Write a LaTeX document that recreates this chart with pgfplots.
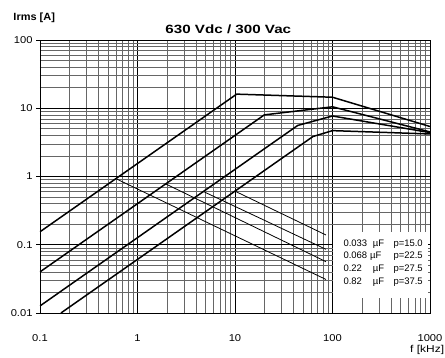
\documentclass[border=0pt]{standalone}
\usepackage{fontspec}
\setmainfont{Liberation Sans}
\usepackage{graphicx}
\usepackage{pgfplots}
\pgfplotsset{compat=1.18}
\newcommand{\sx}[1]{\scalebox{1.12}[1]{#1}}
\begin{document}
\begin{tikzpicture}
\path[use as bounding box] (-40bp,-45bp) rectangle (405bp,313bp);
\begin{axis}[
  at={(0,0)}, anchor=south west,
  scale only axis, width=390bp, height=273bp,
  xmode=log, ymode=log,
  xmin=0.1, xmax=1000, ymin=0.01, ymax=100,
  xtick={0.1,1,10,100,1000}, xticklabels={\sx{0.1},\sx{1},\sx{10},\sx{100},\sx{1000}},
  ytick={0.01,0.1,1,10,100}, yticklabels={\sx{0.01},\sx{0.1},\sx{1},\sx{10},\sx{100}},
  /pgf/number format/assume math mode=true,
  grid=both,
  major grid style={black, line width=0.6pt},
  minor grid style={black!60, line width=0.6pt},
  axis line style={black, line width=0.8pt},
  tick align=outside, major tick length=4bp, minor tick length=0pt,
  xtick style={draw=none}, ytick pos=left,
  ytick style={black, line width=0.6pt},
  x tick label style={font=\fontsize{10}{12}\selectfont, anchor=base, yshift=-24.5bp},
  y tick label style={font=\fontsize{10}{12}\selectfont},
]
\addplot[black, line width=1.5pt] coordinates {(0.1,0.155) (10.4,16.1) (100,14.5) (1000,5.4)};
\addplot[black, line width=1.5pt] coordinates {(0.1,0.04) (20,8.0) (100,10.5) (1000,4.5)};
\addplot[black, line width=1.5pt] coordinates {(0.1,0.0127) (44,5.6) (100,7.7) (1000,4.4)};
\addplot[black, line width=1.5pt] coordinates {(0.164,0.01) (63,3.85) (100,4.7) (1000,4.2)};
\addplot[black, line width=0.8pt] coordinates {(0.6,0.93) (85.7,0.031)};
\addplot[black, line width=0.8pt] coordinates {(1.94,0.78) (85.7,0.0565)};
\addplot[black, line width=0.8pt] coordinates {(4.77,0.6) (85.7,0.0857)};
\addplot[black, line width=0.8pt] coordinates {(10,0.61) (85.7,0.139)};
\end{axis}
\fill[white] (293bp,15bp) rectangle (388bp,81bp);
\begin{scope}[every node/.style={font=\fontsize{9.5}{11}\selectfont, anchor=base west, inner sep=0pt}]
\node at (303.3bp,66.5bp) {0.033};
\node at (332.7bp,66.5bp) {µF};
\node at (353.3bp,66.5bp) {p=15.0};
\node at (303.3bp,54bp) {0.068};
\node at (330bp,54bp) {µF};
\node at (353.3bp,54bp) {p=22.5};
\node at (303.3bp,41.4bp) {0.22};
\node at (332.7bp,41.4bp) {µF};
\node at (353.3bp,41.4bp) {p=27.5};
\node at (303.3bp,28.7bp) {0.82};
\node at (332.7bp,28.7bp) {µF};
\node at (353.3bp,28.7bp) {p=37.5};
\end{scope}
\node[font=\bfseries\fontsize{12}{14}\selectfont, anchor=base, inner sep=0pt] at (188.3bp,279.7bp) {\scalebox{1.27}[1]{630 Vdc / 300 Vac}};
\node[font=\bfseries\fontsize{10.5}{13}\selectfont, anchor=base west, inner sep=0pt] at (-26.7bp,292.3bp) {\scalebox{1.05}[1]{Irms [A]}};
\node[font=\fontsize{10}{12}\selectfont, anchor=base east, inner sep=0pt] at (404.3bp,-39.5bp) {\scalebox{1.2}[1]{f [kHz]}};
\end{tikzpicture}
\end{document}
